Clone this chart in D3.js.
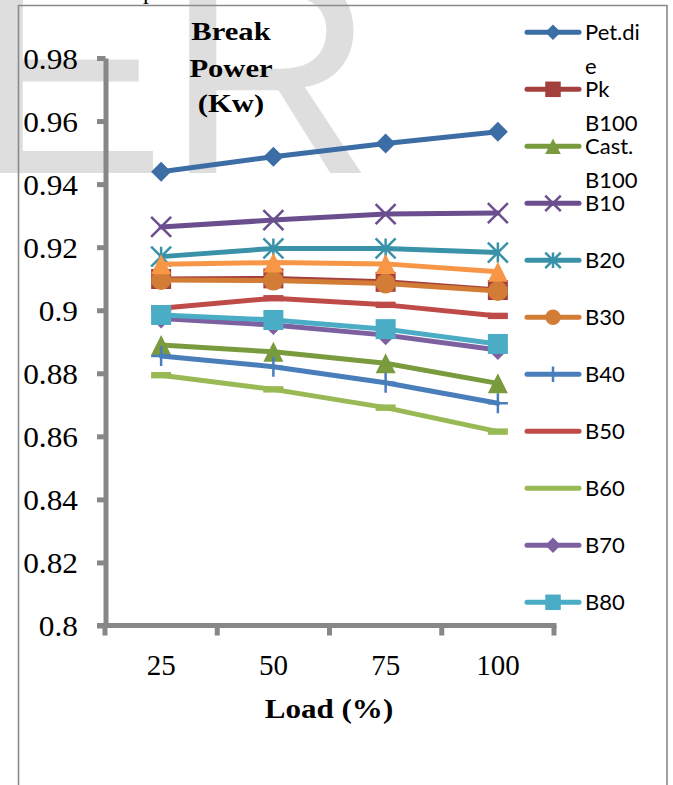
<!DOCTYPE html>
<html><head><meta charset="utf-8">
<script src="https://cdn.jsdelivr.net/npm/d3@7"></script>
<style>body{margin:0;background:#fff} svg{display:block}</style>
</head><body>
<svg id="c" width="673" height="785"></svg>
<script>
// ---------- data ----------
const categories = ["25", "50", "75", "100"];
const yTicks = [0.8, 0.82, 0.84, 0.86, 0.88, 0.9, 0.92, 0.94, 0.96, 0.98];
const yTickLabels = ["0.8", "0.82", "0.84", "0.86", "0.88", "0.9", "0.92", "0.94", "0.96", "0.98"];
const seriesNames = ["Pet.die", "Pk B100", "Cast. B100", "B10", "B20", "B30", "B40", "B50", "B60", "B70", "B80", "B90"];
const legendLines = [["Pet.di", "e"], ["Pk", "B100"], ["Cast.", "B100"], ["B10"], ["B20"], ["B30"], ["B40"], ["B50"], ["B60"], ["B70"], ["B80"]];
const petDie   = [0.9439, 0.9487, 0.9529, 0.9566];
const pkB100   = [0.9099, 0.9101, 0.9090, 0.9064];
const castB100 = [0.8890, 0.8868, 0.8832, 0.8768];
const b10 = [0.9264, 0.9286, 0.9305, 0.9308];
const b20 = [0.9170, 0.9196, 0.9196, 0.9183];
const b30 = [0.9096, 0.9094, 0.9085, 0.9061];
const b40 = [0.8855, 0.8821, 0.8770, 0.8705];
const b50 = [0.9006, 0.9038, 0.9017, 0.8982];
const b60 = [0.8794, 0.8749, 0.8691, 0.8615];
const b70 = [0.8974, 0.8953, 0.8921, 0.8874];
const b80 = [0.8985, 0.8969, 0.8940, 0.8893];
const b90 = [0.9146, 0.9151, 0.9147, 0.9122];
const seriesValues = [petDie, pkB100, castB100, b10, b20, b30, b40, b50, b60, b70, b80, b90];
const colors = ["#3C6DA5", "#A3403D", "#7A9A3E", "#6A4E8E", "#3A92A9", "#D27C35",
                "#4A7EBB", "#BF4B48", "#98B954", "#7D60A0", "#4BACC6", "#F79646"];
const markers = ["diamond", "square", "triangle", "x", "asterisk", "circle",
                 "plus", "dash", "dash", "diamond", "square", "triangle"];

// ---------- drawing ----------
const svg = d3.select("#c");
const serif = "'Liberation Serif','Times New Roman',serif";
const sans = "Lato,'Open Sans',sans-serif";

// watermark
svg.append("text").attr("x", -28).attr("y", 173)
  .attr("font-family", "'Liberation Sans',Arial,sans-serif").attr("font-size", 290)
  .attr("fill", "#dedede").text("ER");

// cut text above the frame
svg.append("text").attr("x", 143).attr("y", -1.5)
  .attr("font-family", serif).attr("font-size", 24).attr("fill", "#000").text("p");

// frame
svg.append("path").attr("d", "M18.5,790 V5.5 H667 V790")
  .attr("fill", "none").attr("stroke", "#8a8a8a").attr("stroke-width", 1.6);

const x = d3.scaleBand().domain(categories).range([105, 554]);
const y = d3.scaleLinear().domain([0.8, 0.98]).range([625.5, 58]);
const axisColor = "#878787";

function sText(parent, tx, ty, str, size, weight, sx, anchor) {
  parent.append("text")
    .attr("transform", `translate(${tx},${ty}) scale(${sx},1)`)
    .attr("text-anchor", anchor).attr("font-family", serif)
    .attr("font-size", size).attr("font-weight", weight).attr("fill", "#000").text(str);
}

// y axis
const yAxis = svg.append("g").attr("transform", "translate(105.5,0)")
  .call(d3.axisLeft(y).tickValues(yTicks).tickSizeOuter(0).tickSizeInner(8.5)
    .tickFormat((d, i) => yTickLabels[i]));
yAxis.select(".domain").attr("stroke", axisColor).attr("stroke-width", 5);
yAxis.selectAll(".tick line").attr("stroke", axisColor).attr("stroke-width", 5);
yAxis.selectAll(".tick text").remove();
yTicks.forEach((t, i) => sText(svg, 78, y(t) + 10.5, yTickLabels[i], 29, "normal", 1.08, "end"));

// x axis line + boundary ticks
const bounds = categories.map(c => x(c)).concat([x(categories[categories.length - 1]) + x.bandwidth()]);
svg.append("line").attr("x1", 97).attr("x2", bounds[bounds.length - 1] + 2.5)
  .attr("y1", y(0.8)).attr("y2", y(0.8)).attr("stroke", axisColor).attr("stroke-width", 5);
svg.selectAll(".xt").data(bounds).join("line").attr("class", "xt")
  .attr("x1", d => d).attr("x2", d => d).attr("y1", y(0.8)).attr("y2", y(0.8) + 10)
  .attr("stroke", axisColor).attr("stroke-width", 5);
categories.forEach(c => sText(svg, x(c) + x.bandwidth() / 2, 675, c, 29, "normal", 1, "middle"));

// axis title and chart title
sText(svg, 329, 718, "Load (%)", 27, "bold", 1.15, "middle");
sText(svg, 231, 40, "Break", 25.5, "bold", 1.2, "middle");
sText(svg, 231, 77, "Power", 25.5, "bold", 1.2, "middle");
sText(svg, 231, 112, "(Kw)", 25.5, "bold", 1.2, "middle");

// markers
function drawMarker(g, type, s, color) {
  const h = s / 2;
  if (type === "diamond") g.append("path").attr("d", `M0,${-h}L${h},0L0,${h}L${-h},0Z`).attr("fill", color);
  else if (type === "square") g.append("rect").attr("x", -h).attr("y", -h).attr("width", s).attr("height", s).attr("fill", color);
  else if (type === "triangle") g.append("path").attr("d", `M0,${-h}L${h},${h}L${-h},${h}Z`).attr("fill", color);
  else if (type === "circle") g.append("circle").attr("r", h).attr("fill", color);
  else if (type === "dash") g.append("rect").attr("x", -h).attr("y", -3.2).attr("width", s).attr("height", 6.4).attr("fill", color);
  else {
    let d = "";
    if (type === "x" || type === "asterisk") d += `M${-h},${-h}L${h},${h}M${h},${-h}L${-h},${h}`;
    if (type === "plus" || type === "asterisk") d += `M0,${-h}L0,${h}`;
    if (type === "plus") d += `M${-h},0L${h},0`;
    g.append("path").attr("d", d).attr("stroke", color).attr("stroke-width", 2.5).attr("fill", "none");
  }
}

const line = d3.line().x((d, i) => x(categories[i]) + x.bandwidth() / 2).y(d => y(d));
seriesValues.forEach((vals, si) => {
  const g = svg.append("g");
  g.append("path").attr("d", line(vals)).attr("fill", "none").attr("stroke", colors[si])
    .attr("stroke-width", 5).attr("stroke-linejoin", "round").attr("stroke-linecap", "round");
  vals.forEach((v, i) => {
    const m = g.append("g").attr("transform", `translate(${x(categories[i]) + x.bandwidth() / 2},${y(v)})`);
    drawMarker(m, markers[si], 20, colors[si]);
  });
});

// legend (the last series does not fit)
legendLines.forEach((lines, i) => {
  const ly = 32.3 + i * 57;
  const g = svg.append("g");
  g.append("line").attr("x1", 527).attr("x2", 579).attr("y1", ly).attr("y2", ly)
    .attr("stroke", colors[i]).attr("stroke-width", 5).attr("stroke-linecap", "round");
  const m = g.append("g").attr("transform", `translate(553,${ly})`);
  drawMarker(m, markers[i], markers[i] === "dash" ? 0 : 15.5, colors[i]);
  lines.forEach((t, k) => {
    g.append("text").attr("x", 585).attr("y", ly + 7.7 + k * 34)
      .attr("font-family", sans).attr("font-size", 22).attr("fill", "#000").text(t);
  });
});
</script>
</body></html>
